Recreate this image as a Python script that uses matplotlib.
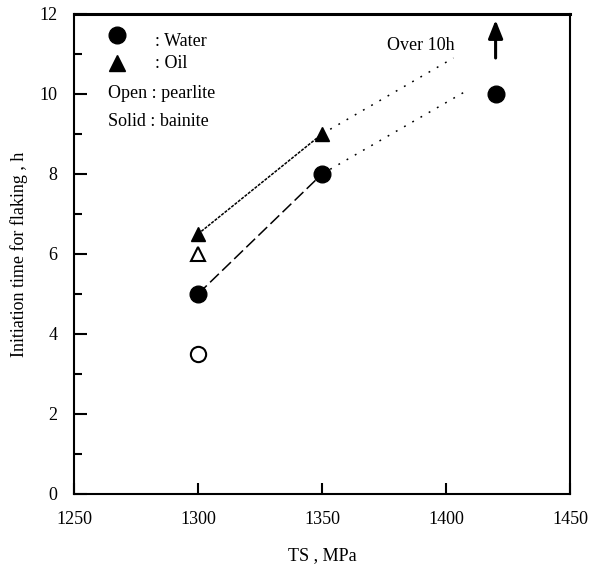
"""Flaking initiation time vs tensile strength (water / oil quench)."""
import matplotlib
matplotlib.use('Agg')
import matplotlib.pyplot as plt
from matplotlib.ticker import MultipleLocator

plt.rcParams['font.family'] = ['Liberation Serif', 'DejaVu Serif']

# data
water_bainite_ts = [1300, 1350, 1420]
water_bainite_h = [5.0, 8.0, 10.0]
water_pearlite_ts = [1300]
water_pearlite_h = [3.5]
oil_bainite_ts = [1300, 1350]
oil_bainite_h = [6.5, 9.0]
oil_pearlite_ts = [1300]
oil_pearlite_h = [6.0]

# trend lines: measured part and extrapolated part
water_fit_ts = [1300, 1350]
water_fit_h = [5.0, 8.0]
water_ext_ts = [1350, 1408]
water_ext_h = [8.0, 10.07]
oil_fit_ts = [1300, 1350]
oil_fit_h = [6.5, 9.0]
oil_ext_ts = [1350, 1403]
oil_ext_h = [9.0, 10.9]

# "over 10h" arrow
arrow_ts = 1420
arrow_from, arrow_to = 10.9, 11.85

fig = plt.figure(figsize=(5.89, 5.64), dpi=100)
ax = fig.add_axes([74 / 589, 70 / 564, 496 / 589, 480 / 564])

ax.plot(water_fit_ts, water_fit_h, color='black', lw=1.1, ls=(0, (8, 3)))
ax.plot(water_ext_ts, water_ext_h, color='black', lw=1.1, ls=(0, (1.2, 5)))
ax.plot(oil_fit_ts, oil_fit_h, color='black', lw=1.1, ls=(0, (2, 0.8)))
ax.plot(oil_ext_ts, oil_ext_h, color='black', lw=1.1, ls=(0, (1.2, 5)))

ax.plot(water_bainite_ts, water_bainite_h, 'o', ms=12, color='black', ls='none')
ax.plot(water_pearlite_ts, water_pearlite_h, 'o', ms=11, mfc='white', mec='black', mew=1.5, ls='none')
ax.plot(oil_bainite_ts, oil_bainite_h, '^', ms=10, color='black', ls='none')
ax.plot(oil_pearlite_ts, oil_pearlite_h, '^', ms=10, mfc='white', mec='black', mew=1.5, ls='none')

ax.annotate('', xy=(arrow_ts, arrow_to), xytext=(arrow_ts, arrow_from),
            arrowprops=dict(arrowstyle='-|>,head_length=0.55,head_width=0.22',
                            color='black', lw=2.2, mutation_scale=20,
                            shrinkA=0, shrinkB=0))
ax.text(1390, 11.22, 'Over 10h', fontsize=13, ha='center', va='center')

# legend drawn as in the original
ax.plot([0.087], [0.956], 'o', ms=12, color='black', transform=ax.transAxes)
ax.plot([0.087], [0.898], '^', ms=11, color='black', transform=ax.transAxes)
ax.text(0.163, 0.942, ': Water', fontsize=13, va='center', transform=ax.transAxes)
ax.text(0.163, 0.896, ': Oil', fontsize=13, va='center', transform=ax.transAxes)
ax.text(0.069, 0.835, 'Open : pearlite', fontsize=13, va='center', transform=ax.transAxes)
ax.text(0.069, 0.777, 'Solid : bainite', fontsize=13, va='center', transform=ax.transAxes)

ax.set_xlim(1250, 1450)
ax.set_ylim(0, 12)
ax.xaxis.set_major_locator(MultipleLocator(50))
ax.yaxis.set_major_locator(MultipleLocator(2))
ax.yaxis.set_minor_locator(MultipleLocator(1))
ax.tick_params(axis='both', which='major', direction='in', labelsize=13, width=1.5)
ax.tick_params(axis='x', which='major', length=8, pad=12)
ax.tick_params(axis='y', which='major', length=9, pad=12)
ax.tick_params(axis='y', which='minor', direction='in', length=6, width=1.5)
for side in ['left', 'bottom', 'right']:
    ax.spines[side].set_linewidth(1.5)
ax.spines['top'].set_linewidth(2.2)

ax.set_xlabel('TS , MPa', fontsize=13, labelpad=14)
ax.set_ylabel('Initiation time for flaking , h', fontsize=13, labelpad=8)

fig.savefig('out.png', dpi=100)
